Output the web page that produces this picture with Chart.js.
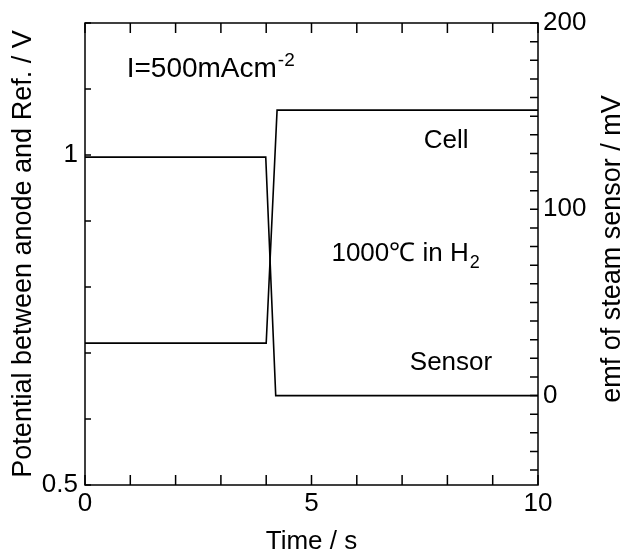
<!DOCTYPE html>
<html>
<head>
<meta charset="utf-8">
<script src="https://cdn.jsdelivr.net/npm/chart.js@4.4.0/dist/chart.umd.min.js"></script>
<style>
  html, body { margin: 0; padding: 0; background: #fff; }
</style>
</head>
<body>
<canvas id="chart" width="624" height="556"></canvas>
<script>
// Cell potential (left axis, V) against time (s)
const cellTime = [0, 4.0, 4.24, 10];
const cellPotential = [0.715, 0.715, 1.068, 1.068];

// Steam sensor emf (right axis, mV) against time (s)
const sensorTime = [0, 3.99, 4.21, 10];
const sensorEmf = [128, 128, 0, 0];

// Tick labels that are printed
const timeLabels = [0, 5, 10];
const potentialLabels = [0.5, 1];
const emfLabels = [0, 100, 200];

const FONT = "'Liberation Sans', Arial, Helvetica, sans-serif";

const toPoints = (xs, ys) => xs.map((x, i) => ({ x: x, y: ys[i] }));
const near = (list, v, eps) => list.find((l) => Math.abs(l - v) < eps);

// Frame, inward ticks and the free text
const framePlugin = {
  id: "frame",
  afterDraw(chart) {
    const ctx = chart.ctx;
    const a = chart.chartArea;
    const { x, y, y2 } = chart.scales;
    ctx.save();
    ctx.strokeStyle = "#000";
    ctx.lineWidth = 1.5;
    ctx.strokeRect(a.left, a.top, a.right - a.left, a.bottom - a.top);
    ctx.beginPath();
    x.ticks.forEach((t) => {
      const px = x.getPixelForValue(t.value);
      ctx.moveTo(px, a.bottom);
      ctx.lineTo(px, a.bottom - 10);
      ctx.moveTo(px, a.top);
      ctx.lineTo(px, a.top + 10);
    });
    y.ticks.forEach((t) => {
      const py = y.getPixelForValue(t.value);
      ctx.moveTo(a.left, py);
      ctx.lineTo(a.left + 6, py);
    });
    y2.ticks.forEach((t) => {
      const py = y2.getPixelForValue(t.value);
      ctx.moveTo(a.right, py);
      ctx.lineTo(a.right - 8, py);
    });
    ctx.stroke();

    ctx.fillStyle = "#000";
    ctx.textAlign = "left";
    ctx.textBaseline = "alphabetic";
    const at = (t, v) => [x.getPixelForValue(t), y.getPixelForValue(v)];

    // I=500mAcm-2
    let [px, py] = at(0.92, 1.118);
    ctx.font = "28px " + FONT;
    ctx.fillText("I=500mAcm", px, py);
    let w = ctx.measureText("I=500mAcm").width;
    ctx.font = "19px " + FONT;
    ctx.fillText("-2", px + w + 1, py - 11);

    ctx.font = "26px " + FONT;
    [px, py] = at(7.48, 1.01);
    ctx.fillText("Cell", px, py);

    [px, py] = at(5.44, 0.84);
    ctx.fillText("1000℃ in H", px, py);
    w = ctx.measureText("1000℃ in H").width;
    ctx.font = "18px " + FONT;
    ctx.fillText("2", px + w + 1, py + 7);

    ctx.font = "26px " + FONT;
    [px, py] = at(7.17, 0.674);
    ctx.fillText("Sensor", px, py);

    // right axis title reads bottom to top
    ctx.font = "27px " + FONT;
    ctx.translate(613, 249);
    ctx.rotate(-Math.PI / 2);
    ctx.textAlign = "center";
    ctx.textBaseline = "middle";
    ctx.fillText("emf of steam sensor / mV", 0, 0);
    ctx.restore();
  },
};

new Chart(document.getElementById("chart"), {
  type: "scatter",
  plugins: [framePlugin],
  data: {
    datasets: [
      {
        label: "Cell",
        data: toPoints(cellTime, cellPotential),
        yAxisID: "y",
      },
      {
        label: "Sensor",
        data: toPoints(sensorTime, sensorEmf),
        yAxisID: "y2",
      },
    ],
  },
  options: {
    responsive: false,
    animation: false,
    layout: { padding: { top: 23, left: 0, right: 0, bottom: 0 } },
    elements: {
      line: { borderColor: "#000", borderWidth: 1.6, tension: 0 },
      point: { radius: 0, hoverRadius: 0 },
    },
    datasets: { scatter: { showLine: true } },
    plugins: { legend: { display: false }, tooltip: { enabled: false } },
    scales: {
      x: {
        type: "linear",
        min: 0,
        max: 10,
        border: { display: false },
        grid: { display: false, drawTicks: false },
        ticks: {
          stepSize: 1,
          autoSkip: false,
          maxRotation: 0,
          padding: 3,
          color: "#000",
          font: { family: FONT, size: 26 },
          callback: (v) => (near(timeLabels, v, 0.01) !== undefined ? String(v) : ""),
        },
        title: {
          display: true,
          text: "Time / s",
          color: "#000",
          font: { family: FONT, size: 26, lineHeight: 1 },
          padding: { top: 0, bottom: 1 },
        },
        afterFit: (s) => { s.height = 71; },
      },
      y: {
        type: "linear",
        position: "left",
        min: 0.5,
        max: 1.2,
        border: { display: false },
        grid: { display: false, drawTicks: false },
        ticks: {
          stepSize: 0.1,
          autoSkip: false,
          padding: 7,
          color: "#000",
          font: { family: FONT, size: 26 },
          callback: (v) => {
            const l = near(potentialLabels, v, 0.001);
            return l !== undefined ? String(l) : "";
          },
        },
        title: {
          display: true,
          text: "Potential between anode and Ref. / V",
          color: "#000",
          font: { family: FONT, size: 27, lineHeight: 1 },
          padding: { top: 10, bottom: 0 },
        },
        afterFit: (s) => { s.width = 85; },
      },
      y2: {
        type: "linear",
        position: "right",
        min: -48,
        max: 200,
        border: { display: false },
        grid: { display: false, drawTicks: false },
        afterBuildTicks: (s) => {
          const ticks = [];
          for (let v = -40; v <= 200; v += 10) ticks.push({ value: v });
          s.ticks = ticks;
        },
        ticks: {
          autoSkip: false,
          padding: 5,
          color: "#000",
          font: { family: FONT, size: 26 },
          callback: (v) => (near(emfLabels, v, 0.01) !== undefined ? String(v) : ""),
        },
        afterFit: (s) => { s.width = 86; },
      },
    },
  },
});
</script>
</body>
</html>
